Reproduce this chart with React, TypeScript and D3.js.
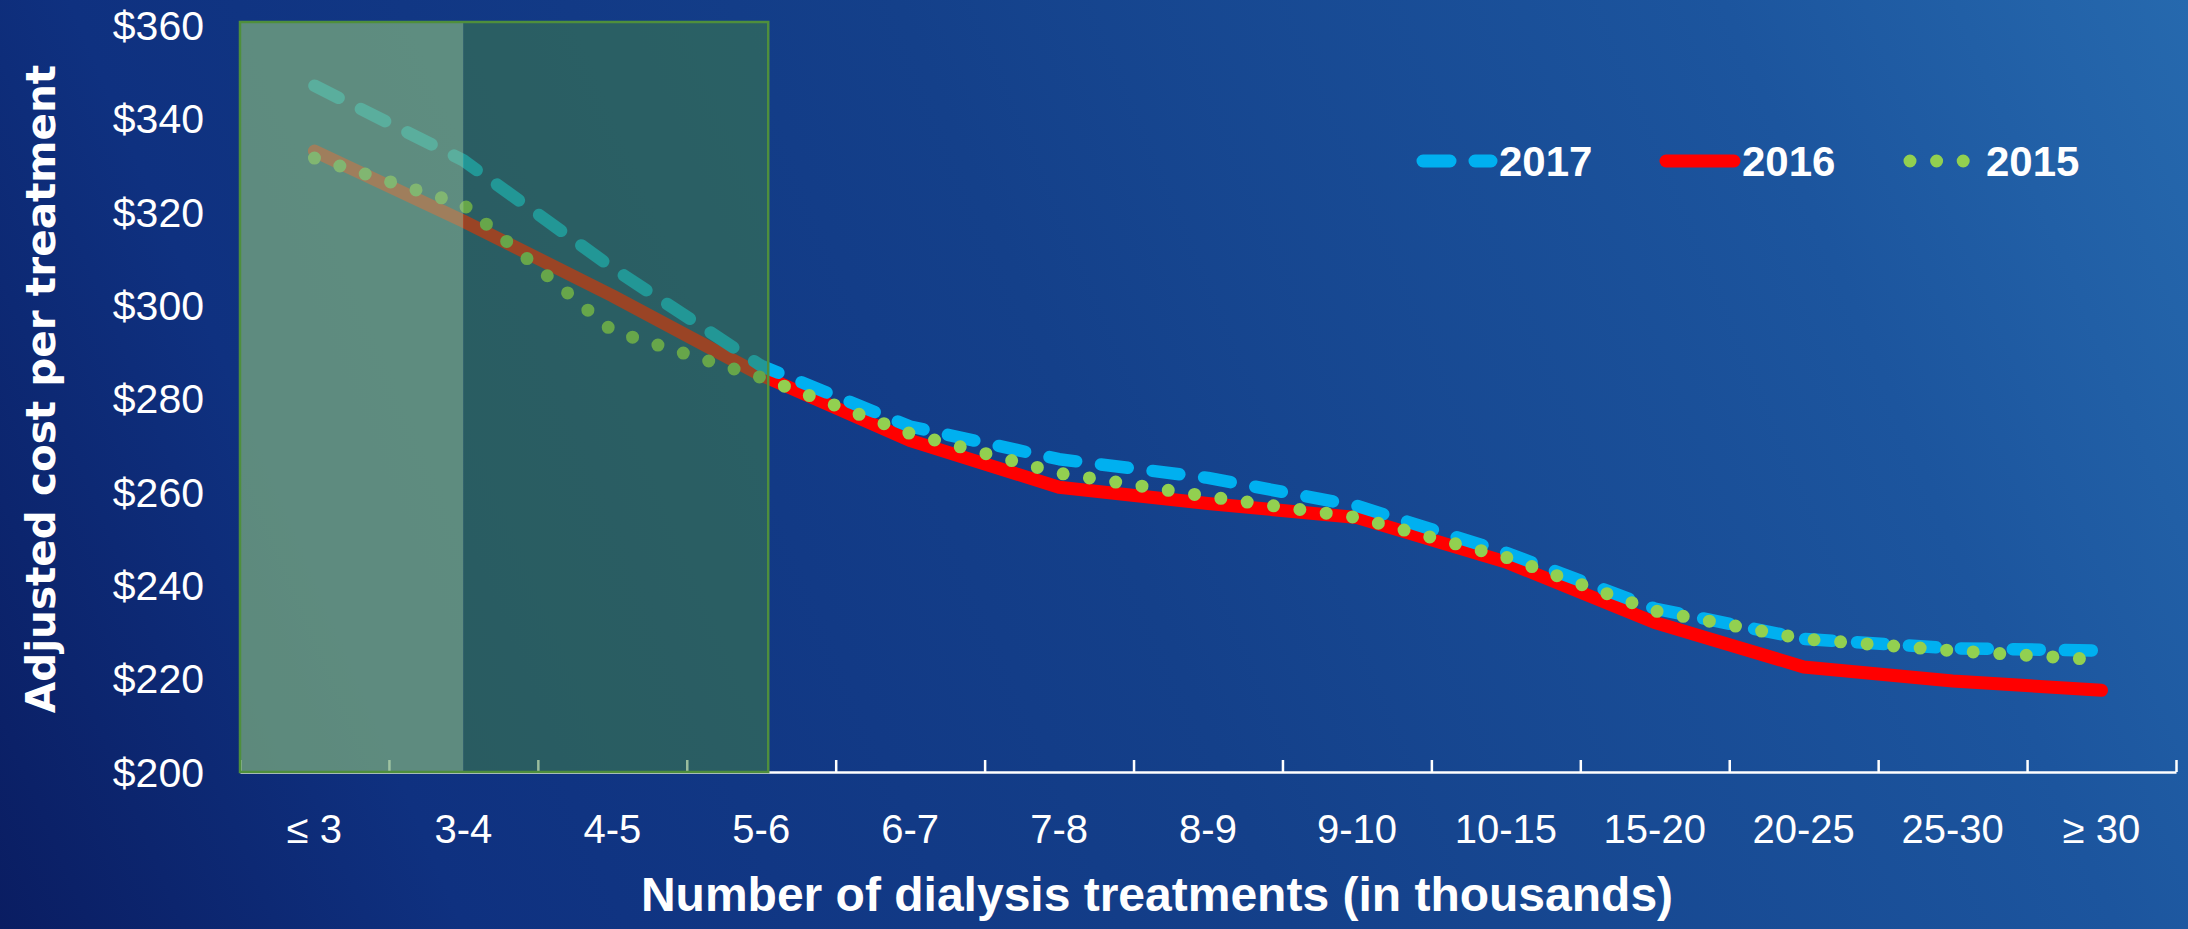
import React from "react";
import * as d3 from "d3";

const categories = ["≤ 3", "3-4", "4-5", "5-6", "6-7", "7-8", "8-9", "9-10", "10-15", "15-20", "20-25", "25-30", "≥ 30"];
const cost2017 = [347, 331, 308, 287, 274, 267, 263, 257, 247, 235, 228.5, 226.5, 226];
const cost2016 = [333, 318, 302, 285, 271, 261, 257.5, 254.5, 245, 232, 222.5, 219.5, 217.5];
const cost2015 = [331.5, 321.5, 294.5, 284.5, 272.5, 264, 259, 254.5, 246, 234.5, 228.5, 226, 224];
const yTicks = [200, 220, 240, 260, 280, 300, 320, 340, 360];

const W = 2188;
const H = 929;
const margin = { top: 25, right: 12, bottom: 157, left: 240 };

const series = [
  { name: "2016", values: cost2016, color: "#ff0000", dash: "", width: 13 },
  { name: "2017", values: cost2017, color: "#00b0f0", dash: "27 25", width: 12.5 },
  { name: "2015", values: cost2015, color: "#92d050", dash: "0 26.6", width: 13 },
];

const App: React.FC = () => {
  const x = d3
    .scaleBand<string>()
    .domain(categories)
    .range([margin.left, W - margin.right]);
  const xEdge = d3.scaleLinear().domain([0, categories.length]).range([margin.left, W - margin.right]);
  const y = d3.scaleLinear().domain([200, 360]).range([H - margin.bottom, margin.top]);
  const cx = (c: string) => x(c)! + x.bandwidth() / 2;

  const line = d3
    .line<number>()
    .x((_, i) => cx(categories[i]))
    .y((d) => y(d));

  // x axis: white baseline with short upward ticks at the category edges
  const axisRef = (g: SVGGElement | null) => {
    if (!g) return;
    const sel = d3.select(g);
    sel.selectAll("*").remove();
    sel
      .call(
        d3
          .axisBottom(xEdge)
          .ticks(categories.length)
          .tickSizeInner(-12)
          .tickSizeOuter(0)
          .tickFormat(() => "")
      )
      .call((a) => a.selectAll("line, path").attr("stroke", "#ffffff").attr("stroke-width", 2.5));
  };

  const boxX0 = margin.left;
  const boxMid = cx("3-4");
  const boxX1 = cx("5-6") + 7;
  const boxY0 = margin.top - 3;
  const boxY1 = y(200);

  const legendItems = [
    { s: series[1], x: 1417 },
    { s: series[0], x: 1660 },
    { s: series[2], x: 1904 },
  ];
  const legendY = 161;

  return (
    <svg width={W} height={H} style={{ position: "absolute", left: 0, top: 0 }}>
      <defs>
        <linearGradient id="bg" gradientUnits="userSpaceOnUse" x1={0} y1={H} x2={W} y2={0}>
          <stop offset="0" stopColor="#0a1d62" />
          <stop offset="0.18" stopColor="#0f3180" />
          <stop offset="0.5" stopColor="#14408a" />
          <stop offset="0.82" stopColor="#1c559e" />
          <stop offset="1" stopColor="#2669ae" />
        </linearGradient>
      </defs>
      <rect width={W} height={H} fill="url(#bg)" />

      {/* y tick labels */}
      <g fontFamily="'Liberation Sans', Arial, sans-serif" fontSize={41} fill="#ffffff" textAnchor="end">
        {yTicks.map((t) => (
          <text key={t} x={204} y={y(t)} dy="0.36em">
            ${t}
          </text>
        ))}
      </g>

      {/* x axis */}
      <g ref={axisRef} transform={`translate(0,${y(200)})`} />
      <g fontFamily="'Liberation Sans', Arial, sans-serif" fontSize={40} fill="#ffffff" textAnchor="middle">
        {categories.map((c) => (
          <text key={c} x={cx(c)} y={y(200) + 57} dy="0.36em">
            {c}
          </text>
        ))}
      </g>

      {/* lines */}
      {series.map((s) => (
        <path
          key={s.name}
          d={line(s.values)!}
          fill="none"
          stroke={s.color}
          strokeWidth={s.width}
          strokeDasharray={s.dash || undefined}
          strokeLinecap="round"
          strokeLinejoin="round"
        />
      ))}

      {/* highlighted region */}
      <rect x={boxX0} y={boxY0} width={boxMid - boxX0} height={boxY1 - boxY0} fill="rgb(124,173,126)" fillOpacity={0.73} />
      <rect x={boxMid} y={boxY0} width={boxX1 - boxMid} height={boxY1 - boxY0} fill="rgb(64,128,70)" fillOpacity={0.53} />
      <rect x={boxX0} y={boxY0} width={boxX1 - boxX0} height={boxY1 - boxY0} fill="none" stroke="#4f8f3c" strokeWidth={2.5} />

      {/* legend */}
      {legendItems.map(({ s, x: lx }) => (
        <g key={s.name}>
          <line
            x1={lx + 6}
            x2={lx + 74}
            y1={legendY}
            y2={legendY}
            stroke={s.color}
            strokeWidth={13}
            strokeDasharray={s.dash || undefined}
            strokeLinecap="round"
          />
          <text
            x={lx + 82}
            y={legendY}
            dy="0.36em"
            fontFamily="'Liberation Sans', Arial, sans-serif"
            fontWeight="bold"
            fontSize={42}
            fill="#ffffff"
          >
            {s.name}
          </text>
        </g>
      ))}

      {/* axis titles */}
      <text
        x={1157}
        y={911}
        textAnchor="middle"
        fontFamily="'Liberation Sans', Arial, sans-serif"
        fontWeight="bold"
        fontSize={48}
        fill="#ffffff"
      >
        Number of dialysis treatments (in thousands)
      </text>
      <text
        transform={`translate(55,389) rotate(-90)`}
        textAnchor="middle"
        fontFamily="'DejaVu Sans', Verdana, sans-serif"
        fontWeight="bold"
        fontSize={40.5}
        fill="#ffffff"
      >
        Adjusted cost per treatment
      </text>
    </svg>
  );
};

export default App;
